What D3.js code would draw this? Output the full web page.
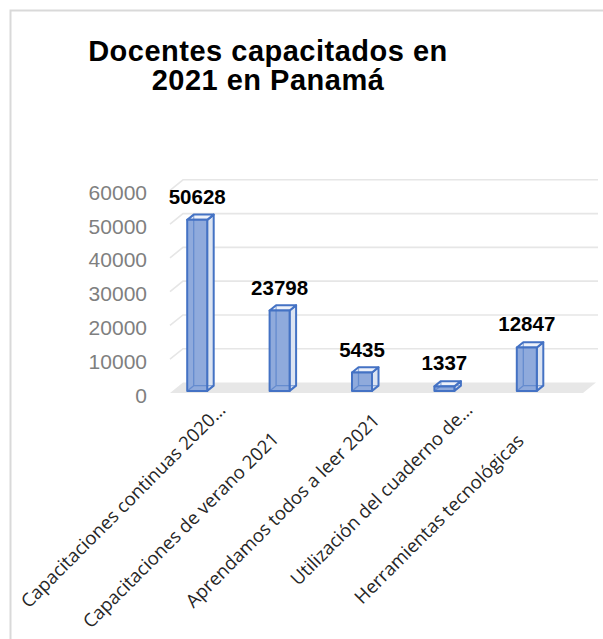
<!DOCTYPE html>
<html>
<head>
<meta charset="utf-8">
<script src="https://cdn.jsdelivr.net/npm/d3@7"></script>
<style>
  html, body { margin: 0; padding: 0; background: #fff; }
  svg { display: block; }
</style>
</head>
<body>
<div id="chart"></div>
<script>
const titleLines = ["Docentes capacitados en", "2021 en Panamá"];
const categories = [
    "Capacitaciones continuas 2020…",
    "Capacitaciones de verano 2021",
    "Aprendamos todos a leer 2021",
    "Utilización del cuaderno de…",
    "Herramientas tecnológicas"
];
const values = [50628, 23798, 5435, 1337, 12847];
const yTicks = [0, 10000, 20000, 30000, 40000, 50000, 60000];

// layout of the pseudo 3D box
const W = 603, H = 639;
const floorLeft = 170, floorRight = 583, floorY = 393;
const depth = { dx: 13, dy: -10.5 };
const barFront = 0.2, barBack = 0.7, barWidth = 20;
const labelShift = [0, 41, 15, 0, 44];

const blue = "#4472c4";

const svg = d3.select("#chart").append("svg")
    .attr("width", W)
    .attr("height", H);

svg.append("rect")
    .attr("x", 10.5).attr("y", 10.5)
    .attr("width", 700).attr("height", 700)
    .attr("fill", "#fff")
    .attr("stroke", "#d9d9d9")
    .attr("stroke-width", 2);

svg.append("g")
    .selectAll("text")
    .data(titleLines)
    .enter()
    .append("text")
    .attr("x", 268)
    .attr("y", (d, i) => 60.5 + i * 29.5)
    .attr("text-anchor", "middle")
    .style("font-family", "'Liberation Sans', Arial, sans-serif")
    .style("font-weight", "bold")
    .style("font-size", "29px")
    .style("letter-spacing", "0.5px")
    .attr("fill", "#000")
    .text(d => d);

const x = d3.scaleBand()
    .domain(categories)
    .range([153.4, 565.4])
    .padding(0);

const y = d3.scaleLinear()
    .domain([0, 60000])
    .range([floorY, floorY - 202.7]);

const pt = (px, v, t) => [px + depth.dx * t, y(v) + depth.dy * t];
const line = pts => "M" + pts.map(p => p.join(",")).join("L") + "Z";
const path = pts => "M" + pts.map(p => p.join(",")).join("L");

// floor
svg.append("path")
    .attr("d", line([pt(floorLeft, 0, 0), pt(floorRight, 0, 0), pt(floorRight, 0, 1), pt(floorLeft, 0, 1)]))
    .attr("fill", "#e7e7e7");

// gridlines on back and side walls
svg.append("g")
    .selectAll("path")
    .data(yTicks.filter(d => d > 0))
    .enter()
    .append("path")
    .attr("d", d => path([pt(floorLeft, d, 0), pt(floorLeft, d, 1), [floorRight + depth.dx + 2, y(d) + depth.dy]]))
    .attr("fill", "none")
    .attr("stroke", "#e6e6e6")
    .attr("stroke-width", 1.6);

// y tick labels
svg.append("g")
    .selectAll("text")
    .data(yTicks)
    .enter()
    .append("text")
    .attr("x", 147)
    .attr("y", d => y(d) + 2)
    .attr("dominant-baseline", "central")
    .attr("text-anchor", "end")
    .style("font-family", "'Liberation Sans', Arial, sans-serif")
    .style("font-size", "21px")
    .attr("fill", "#7f7f7f")
    .text(d => d);

// bars
const bars = svg.append("g")
    .selectAll("g")
    .data(values)
    .enter()
    .append("g");

const bx0 = (d, i) => x(categories[i]) + x.bandwidth() / 2 - barWidth / 2;

bars.each(function (d, i) {
    const g = d3.select(this);
    const l = bx0(d, i), r = l + barWidth;
    const fbl = pt(l, 0, barFront), fbr = pt(r, 0, barFront);
    const ftl = pt(l, d, barFront), ftr = pt(r, d, barFront);
    const bbl = pt(l, 0, barBack), bbr = pt(r, 0, barBack);
    const btl = pt(l, d, barBack), btr = pt(r, d, barBack);

    // right side
    g.append("path")
        .attr("d", line([fbr, bbr, btr, ftr]))
        .attr("fill", "#dce4f2")
        .attr("stroke", blue)
        .attr("stroke-width", 2)
        .attr("stroke-linejoin", "round");
    // top
    g.append("path")
        .attr("d", line([ftl, ftr, btr, btl]))
        .attr("fill", "#eef2fa")
        .attr("stroke", blue)
        .attr("stroke-width", 2)
        .attr("stroke-linejoin", "round");
    // front
    g.append("path")
        .attr("d", line([fbl, fbr, ftr, ftl]))
        .attr("fill", "#8faadc")
        .attr("stroke", blue)
        .attr("stroke-width", 2)
        .attr("stroke-linejoin", "round");
    // hidden edges seen through
    g.append("path")
        .attr("d", path([btl, bbl, bbr]) + path([fbl, bbl]))
        .attr("fill", "none")
        .attr("stroke", blue)
        .attr("stroke-opacity", 0.55)
        .attr("stroke-width", 1.3);
});

// value labels
svg.append("g")
    .selectAll("text")
    .data(values)
    .enter()
    .append("text")
    .attr("x", (d, i) => bx0(d, i) + barWidth / 2 + depth.dx * barFront)
    .attr("y", d => y(d) + depth.dy * barFront - 16)
    .attr("text-anchor", "middle")
    .style("font-family", "'Liberation Sans', Arial, sans-serif")
    .style("font-weight", "bold")
    .style("font-size", "20.5px")
    .attr("fill", "#000")
    .text(d => d);

// category labels
svg.append("g")
    .selectAll("text")
    .data(categories)
    .enter()
    .append("text")
    .attr("transform", d => `translate(${x(d) + x.bandwidth() / 2 + 32},411) rotate(-45)`)
    .attr("x", (d, i) => -labelShift[i])
    .attr("text-anchor", "end")
    .style("font-family", "'Open Sans', sans-serif")
    .style("font-size", "18.5px")
    .attr("fill", "#262626")
    .text(d => d);
</script>
</body>
</html>
